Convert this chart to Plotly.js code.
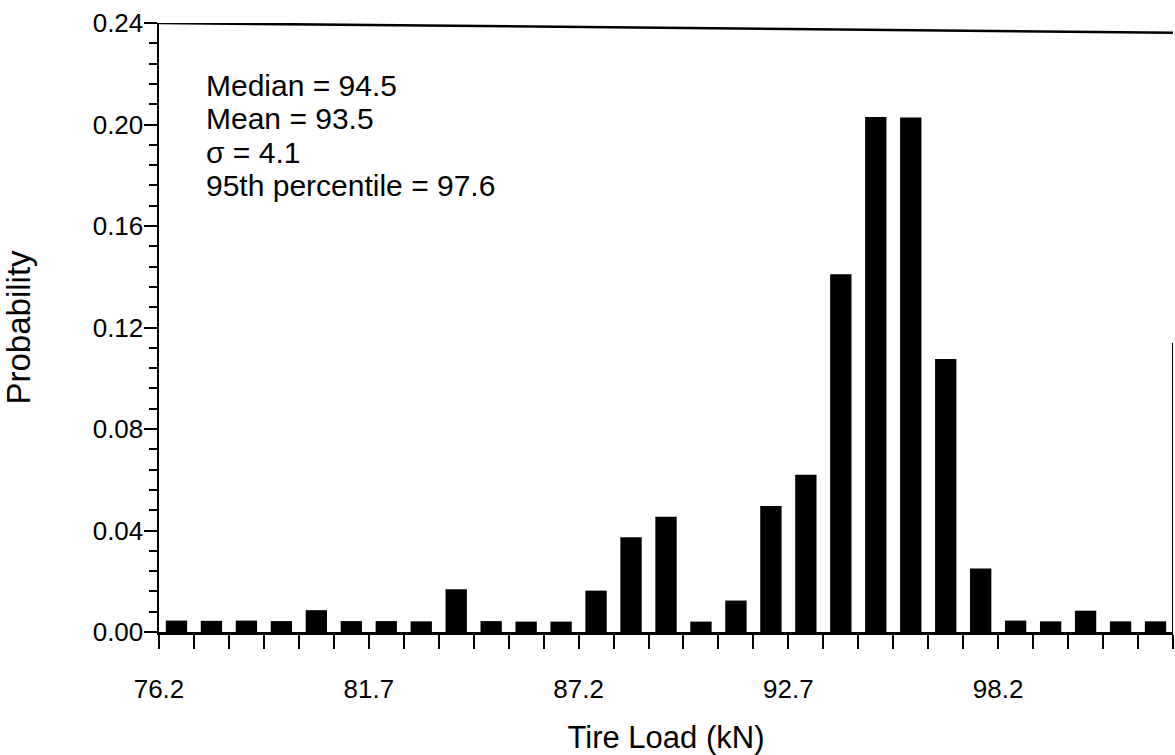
<!DOCTYPE html>
<html>
<head>
<meta charset="utf-8">
<script src="https://cdn.plot.ly/plotly-3.0.1.min.js"></script>
<style>
  html, body { margin: 0; padding: 0; background: #fff; }
  #chart { width: 1175px; height: 755px; }
</style>
</head>
<body>
<div id="chart"></div>
<script>
// ---- data ----
const binStart = 76.2;          // kN, left edge of first bin
const labelStep = 5.5;          // kN between labelled ticks
const binsPerLabel = 6;         // bins between labelled ticks
const probability = [
  0.0045, 0.0044, 0.0045, 0.0043, 0.0086, 0.0043, 0.0043, 0.0042,
  0.0168, 0.0043, 0.0041, 0.0041, 0.0163, 0.0373, 0.0454, 0.0041,
  0.0124, 0.0497, 0.0620, 0.1410, 0.2030, 0.2028, 0.1076, 0.0250,
  0.0045, 0.0042, 0.0084, 0.0042, 0.0042
];
const statLines = [
  'Median = 94.5',
  'Mean = 93.5',
  '\u03c3 = 4.1',
  '95th percentile = 97.6'
];
const xTitle = 'Tire Load (kN)';
const yTitle = 'Probability';

// ---- derived ----
const binWidth = labelStep / binsPerLabel;
const binCenters = probability.map((_, i) => binStart + (i + 0.5) * binWidth);
const xEnd = binStart + probability.length * binWidth;

const FONT = 'Liberation Sans, Arial, Helvetica, sans-serif';

const trace = {
  type: 'bar',
  x: binCenters,
  y: probability,
  width: binWidth * 0.61,
  marker: { color: '#000', line: { width: 0 } },
  hoverinfo: 'x+y'
};

const annotations = statLines.map((t, i) => ({
  xref: 'paper', yref: 'paper',
  x: 0.044, y: 0.8975 - i * 0.055,
  xanchor: 'left', yanchor: 'middle',
  text: t, showarrow: false,
  font: { family: FONT, size: 30, color: '#000' }
}));

const layout = {
  width: 1175, height: 755,
  margin: { l: 159, r: 2, t: 23, b: 123 },
  paper_bgcolor: '#fff', plot_bgcolor: '#fff',
  showlegend: false,
  bargap: 0.39,
  xaxis: {
    range: [binStart, xEnd],
    tickmode: 'linear', tick0: binStart, dtick: labelStep,
    tickformat: '.1f',
    ticks: 'outside', ticklen: 14, tickwidth: 2, tickcolor: '#000',
    ticklabelstandoff: 18,
    minor: { tick0: binStart, dtick: binWidth, ticks: 'outside', ticklen: 14, tickwidth: 2, tickcolor: '#000', showgrid: false },
    showline: true, linecolor: '#000', linewidth: 2.5,
    showgrid: false, zeroline: false,
    tickfont: { family: FONT, size: 26, color: '#000' },
    title: { text: xTitle, standoff: 24, font: { family: FONT, size: 31, color: '#000' } },
    fixedrange: true
  },
  yaxis: {
    range: [0, 0.24],
    tickmode: 'linear', tick0: 0, dtick: 0.04,
    tickformat: '.2f',
    ticks: 'outside', ticklen: 13, tickwidth: 2, tickcolor: '#000',
    ticklabelstandoff: -5,
    minor: { dtick: 0.008, ticks: 'outside', ticklen: 8, tickwidth: 2, tickcolor: '#000', showgrid: false },
    showline: true, linecolor: '#000', linewidth: 2.5,
    showgrid: false, zeroline: false,
    tickfont: { family: FONT, size: 26, color: '#000' },
    title: { text: yTitle, standoff: 56, font: { family: FONT, size: 33, color: '#000' } },
    fixedrange: true
  },
  annotations: annotations,
  shapes: [
    { type: 'line', xref: 'x', yref: 'y', x0: binStart, x1: xEnd, y0: 0.24, y1: 0.2362,
      line: { color: '#000', width: 2.5 } },
    { type: 'line', xref: 'x', yref: 'y', x0: xEnd, x1: xEnd, y0: 0, y1: 0.114,
      line: { color: '#000', width: 2 } }
  ]
};

Plotly.newPlot('chart', [trace], layout, { displayModeBar: false, staticPlot: true });
</script>
</body>
</html>
